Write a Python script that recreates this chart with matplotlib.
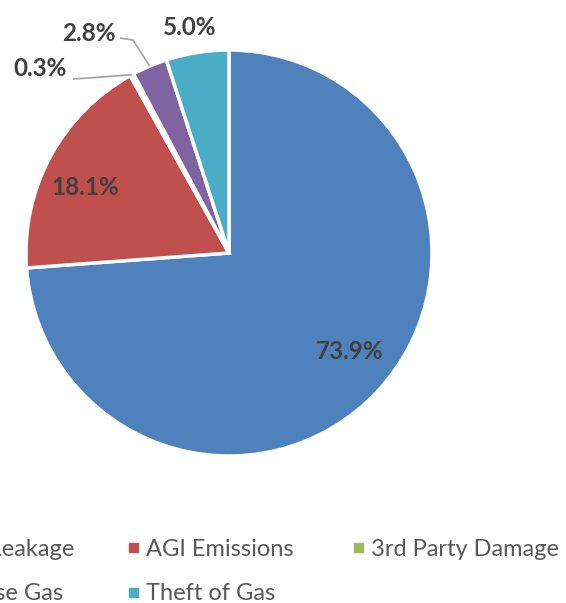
import numpy as np
import matplotlib
matplotlib.use("Agg")
import matplotlib.pyplot as plt
from matplotlib.patches import Rectangle

categories = ["Mains Leakage", "AGI Emissions", "3rd Party Damage", "Own Use Gas", "Theft of Gas"]
values = [73.9, 18.1, 0.3, 2.8, 5.0]
colors = ["#4F81BD", "#C0504D", "#9BBB59", "#8064A2", "#4BACC6"]
labels = [f"{v:.1f}%" for v in values]

W, H = 566, 603
fig = plt.figure(figsize=(W / 100, H / 100), dpi=100)
ax = fig.add_axes([0, 0, 1, 1])
ax.set_xlim(0, W)
ax.set_ylim(0, H)
ax.set_aspect("equal")
ax.axis("off")

cx, cy, R = 229, H - 253, 203
wedges, _ = ax.pie(values, colors=colors, startangle=90, counterclock=False,
                   center=(cx, cy), radius=R, normalize=True,
                   wedgeprops=dict(edgecolor="white", linewidth=2.5))
ax.set_xlim(0, W)
ax.set_ylim(0, H)

# label layout: (angle offset deg, radius factor)
layout = [(3.6, 0.77), (4.0, 0.778), (17.2, 1.30), (9.5, 1.285), (1.0, 1.13)]
txtcolor = "#404040"
for w, lab, (doff, rf) in zip(wedges, labels, layout):
    mid = np.deg2rad((w.theta1 + w.theta2) / 2 + doff)
    tx, ty = cx + rf * R * np.cos(mid), cy + rf * R * np.sin(mid)
    ax.text(tx, ty, lab, ha="center", va="center", fontsize=17.5,
            fontweight="bold", color=txtcolor, family="Lato")

# leader lines for small slices
def leader(w, elbow, end):
    mid = np.deg2rad((w.theta1 + w.theta2) / 2)
    sx, sy = cx + R * np.cos(mid), cy + R * np.sin(mid)
    ax.plot([sx, elbow[0], end[0]], [sy, elbow[1], end[1]],
            color="#A6A6A6", lw=1.3, solid_capstyle="butt")

leader(wedges[3], (133, H - 40), (120, H - 38))
leader(wedges[2], (88, H - 78), (73, H - 79))

# legend
x0, col_w = -96, 225
rows_y = [547, 592]
for i, (cat, col) in enumerate(zip(categories, colors)):
    c, r = i % 3, i // 3
    mx = x0 + c * col_w
    my = H - rows_y[r]
    ax.add_patch(Rectangle((mx, my - 5), 9, 9, color=col, clip_on=False))
    ax.text(mx + 17, my - 2, cat, ha="left", va="center", fontsize=17,
            color="#595959", family="Lato")

fig.savefig("out.png", dpi=100)
